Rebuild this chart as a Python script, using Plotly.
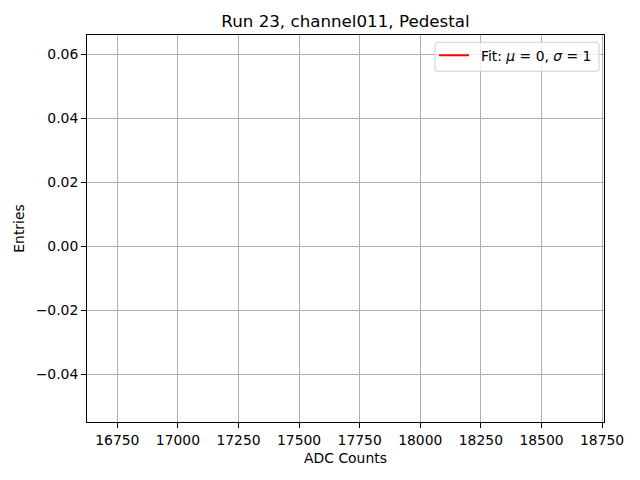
import plotly.graph_objects as go

# Data (fit curve has no visible points in the plotted window)
fit_x = [None]
fit_y = [None]
fit_label = "\u2002Fit: <i>μ</i> = 0, <i>σ</i> = 1"

title_text = "Run 23, channel011, Pedestal"
x_label = "ADC Counts"
y_label = "Entries"
x_range = [16625, 18758]
y_range = [-0.0549, 0.0660]
x_ticks = [16750, 17000, 17250, 17500, 17750, 18000, 18250, 18500, 18750]
y_ticks = [-0.04, -0.02, 0.00, 0.02, 0.04, 0.06]

FONT = "DejaVu Sans"
L, R, T, B = 87, 604, 35, 422
PW, PH = R - L, B - T


def px(xp):
    return (xp - L) / PW


def py(yp):
    return (B - yp) / PH


fig = go.Figure()
fig.add_trace(go.Scatter(x=fit_x, y=fit_y, mode="lines", name=fit_label,
                         line=dict(color="red", width=2.1), showlegend=True))

axis_common = dict(
    showline=True, linecolor="black", linewidth=1.1, mirror=True,
    ticks="outside", ticklen=4.9, tickwidth=1.1, tickcolor="black",
    showgrid=True, gridcolor="#b0b0b0", gridwidth=1.1,
    zeroline=False, tickfont=dict(family=FONT, size=13.9, color="black"),
)

# rounded legend frame (matplotlib style)
x0, x1, y0, y1, r = 435, 599, 42.3, 71.3, 3.5
path = (f"M {px(x0 + r)},{py(y0)} L {px(x1 - r)},{py(y0)} "
        f"Q {px(x1)},{py(y0)} {px(x1)},{py(y0 + r)} L {px(x1)},{py(y1 - r)} "
        f"Q {px(x1)},{py(y1)} {px(x1 - r)},{py(y1)} L {px(x0 + r)},{py(y1)} "
        f"Q {px(x0)},{py(y1)} {px(x0)},{py(y1 - r)} L {px(x0)},{py(y0 + r)} "
        f"Q {px(x0)},{py(y0)} {px(x0 + r)},{py(y0)} Z")

fig.update_layout(
    width=640, height=480,
    paper_bgcolor="white", plot_bgcolor="white",
    margin=dict(l=L, r=640 - R, t=T, b=480 - B),
    font=dict(family=FONT, color="black"),
    title=dict(text=title_text, x=(L + R) / 2 / 640, xanchor="center",
               y=1 - 21 / 480, yanchor="middle",
               font=dict(family=FONT, size=16.7, color="black")),
    xaxis=dict(range=x_range, tickvals=x_ticks, ticktext=[str(v) for v in x_ticks],
               title=dict(text=x_label, font=dict(family=FONT, size=13.9, color="black"), standoff=6),
               **axis_common),
    yaxis=dict(range=y_range, tickvals=y_ticks, tickformat=".2f",
               title=dict(text=y_label, font=dict(family=FONT, size=13.9, color="black"), standoff=7),
               **axis_common),
    shapes=[dict(type="path", xref="paper", yref="paper", path=path,
                 fillcolor="rgba(255,255,255,0.8)", line=dict(color="#d0d0d0", width=1.1),
                 layer="above")],
    legend=dict(x=px(434), xanchor="left", y=py(55.7), yanchor="middle",
                bgcolor="rgba(0,0,0,0)", borderwidth=0,
                font=dict(family=FONT, size=13.9, color="black")),
    showlegend=True,
)

fig.write_html("out.html", config={"displayModeBar": False},
               post_script="document.body.style.margin='0';")
